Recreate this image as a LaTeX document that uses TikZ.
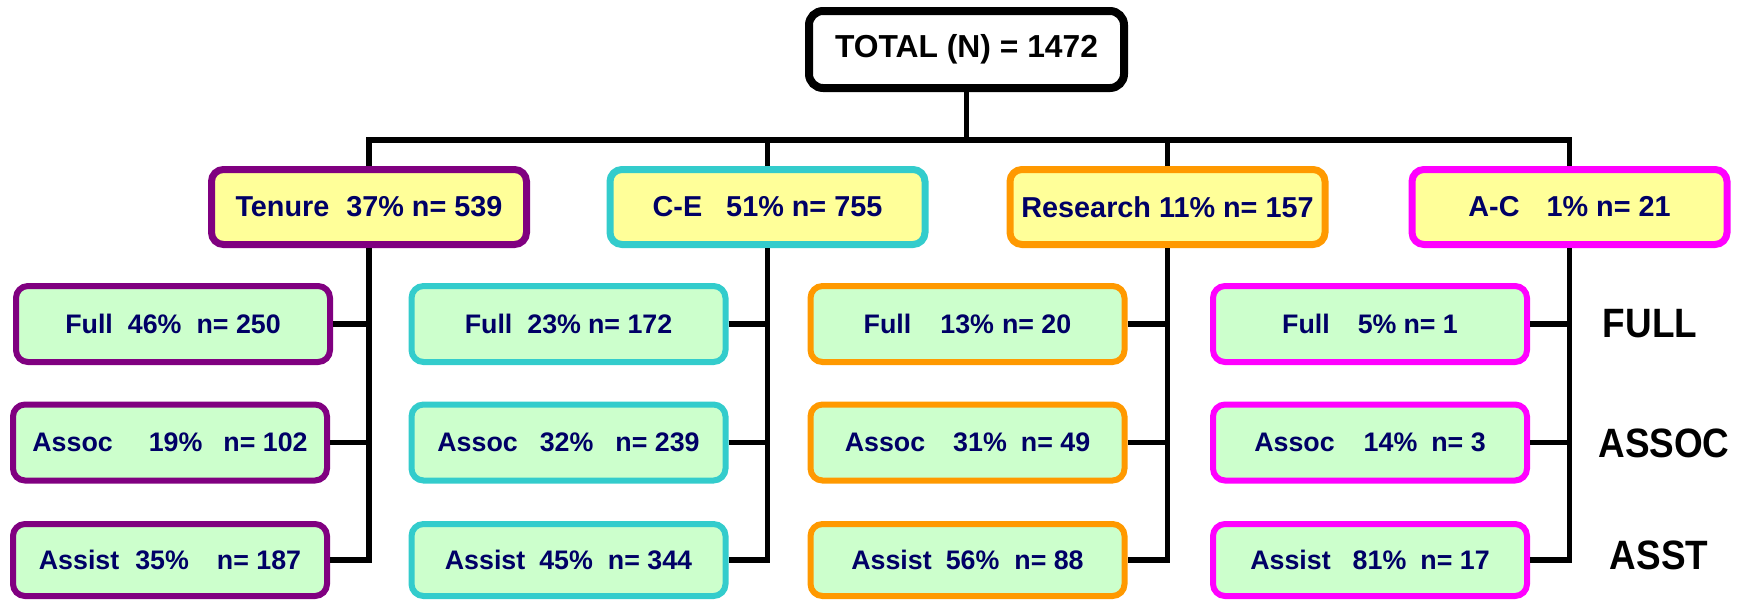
\documentclass[tikz,border=0pt]{standalone}
\usepackage{fontspec}
\setmainfont{Liberation Sans}
\usepackage{graphicx}
\definecolor{navy}{RGB}{0,0,102}
\definecolor{cpurple}{RGB}{128,0,128}
\definecolor{ccyan}{RGB}{51,204,204}
\definecolor{corange}{RGB}{255,153,0}
\definecolor{cmag}{RGB}{255,0,255}
\definecolor{fyellow}{RGB}{255,255,153}
\definecolor{fgreen}{RGB}{204,255,204}
\newcommand\gp[1]{\hspace{#1pt}}
\begin{document}
\begin{tikzpicture}[x=0.5pt,y=-0.5pt,
  totalbox/.style={draw=black, line width=4pt, fill=white, rounded corners=7pt,
    minimum width=157.5pt, minimum height=38.5pt, inner sep=0pt,
    font=\fontsize{15.9}{18}\selectfont\bfseries, text=black},
  catbox/.style={draw=#1, line width=3.5pt, fill=fyellow, rounded corners=6pt,
    minimum width=157.5pt, minimum height=37.5pt, inner sep=0pt,
    font=\fontsize{14.4}{17}\selectfont\bfseries, text=navy},
  rankbox/.style={draw=#1, line width=3pt, fill=fgreen, rounded corners=6pt,
    minimum width=157pt, minimum height=38pt, inner sep=0pt,
    font=\fontsize{13.4}{15}\selectfont\bfseries, text=navy},
  lastbox/.style={rankbox=#1, minimum height=36pt},
  conn/.style={line width=2.75pt, black, line join=miter},
  rlabel/.style={font=\fontsize{20.5}{24}\selectfont\bfseries, text=black, inner sep=0pt}]
\useasboundingbox (0,0) rectangle (1748,600);

% top
\node[totalbox] (total) at (966.5,49.5) {TOTAL (N) = 1472};

% categories
\node[catbox=cpurple] (ten) at (369,207) {Tenure\gp{8.5}37\%\gp{4}n= 539};
\node[catbox=ccyan]   (ce)  at (767.5,207) {C-E\gp{12}51\%\gp{4}n= 755};
\node[catbox=corange] (res) at (1167.5,207) {Research\gp{4}11\%\gp{4}n= 157};
\node[catbox=cmag]    (ac)  at (1569.5,207) {A-C\gp{13.5}1\%\gp{4}n= 21};

% tenure ranks
\node[rankbox=cpurple] (tF) at (173,324) {Full\gp{7.5}46\%\gp{7.5}n= 250};
\node[rankbox=cpurple] (tA) at (170,442.5) {Assoc\gp{18}19\%\gp{10.5}n= 102};
\node[lastbox=cpurple] (tS) at (170,560) {Assist\gp{8}35\%\gp{14}n= 187};
% C-E ranks
\node[rankbox=ccyan] (cF) at (568.5,324) {Full\gp{7.5}23\%\gp{3.5}n= 172};
\node[rankbox=ccyan] (cA) at (568.5,442.5) {Assoc\gp{11}32\%\gp{11}n= 239};
\node[lastbox=ccyan] (cS) at (568.5,560) {Assist\gp{7}45\%\gp{7.5}n= 344};
% research ranks
\node[rankbox=corange] (rF) at (967.5,324) {Full\gp{14.5}13\%\gp{4}n= 20};
\node[rankbox=corange] (rA) at (967.5,442.5) {Assoc\gp{14}31\%\gp{7}n= 49};
\node[lastbox=corange] (rS) at (967.5,560) {Assist\gp{7}56\%\gp{7.5}n= 88};
% A-C ranks
\node[rankbox=cmag] (aF) at (1370,324) {Full\gp{14}5\%\gp{3.5}n= 1};
\node[rankbox=cmag] (aA) at (1370,442.5) {Assoc\gp{14.5}14\%\gp{7}n= 3};
\node[lastbox=cmag] (aS) at (1370,560) {Assist\gp{11}81\%\gp{7}n= 17};

% row labels
\node[rlabel] (lfull)  at (1650,324) {\scalebox{0.9}[1]{FULL}};
\node[rlabel] (lassoc) at (1664,443) {\scalebox{0.9}[1]{ASSOC}};
\node[rlabel] (lasst)  at (1659,555) {\scalebox{0.9}[1]{ASST}};

% bus
\coordinate (busy) at (0,140);
\draw[conn] (total.south) -- (total.south |- busy);
\draw[conn] (ten.north) -- (ten.north |- busy) -- (ac.north |- busy) -- (ac.north);
\draw[conn] (ce.north) -- (ce.north |- busy);
\draw[conn] (res.north) -- (res.north |- busy);

% column connectors
\draw[conn] (ten.south) -- (ten.south |- tS.east) -- (tS.east);
\draw[conn] (tF.east) -- (tF.east -| ten.south);
\draw[conn] (tA.east) -- (tA.east -| ten.south);

\draw[conn] (ce.south) -- (ce.south |- cS.east) -- (cS.east);
\draw[conn] (cF.east) -- (cF.east -| ce.south);
\draw[conn] (cA.east) -- (cA.east -| ce.south);

\draw[conn] (res.south) -- (res.south |- rS.east) -- (rS.east);
\draw[conn] (rF.east) -- (rF.east -| res.south);
\draw[conn] (rA.east) -- (rA.east -| res.south);

\draw[conn] (ac.south) -- (ac.south |- aS.east) -- (aS.east);
\draw[conn] (aF.east) -- (aF.east -| ac.south);
\draw[conn] (aA.east) -- (aA.east -| ac.south);
\end{tikzpicture}
\end{document}
